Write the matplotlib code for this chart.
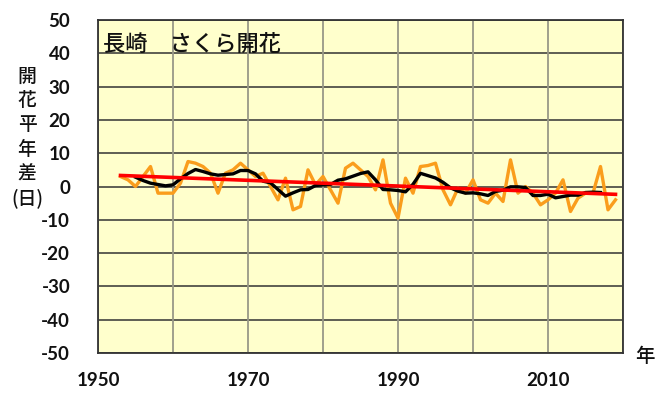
import numpy as np
import pandas as pd
import matplotlib
matplotlib.use("Agg")
import matplotlib.pyplot as plt

plt.rcParams['font.family'] = ['Noto Sans CJK JP', 'DejaVu Sans']

years = list(range(1953, 2020))
anomaly = [3, 2, 0, 3, 6, -2, -2, -2, 1, 7.5,
           7, 6, 4, -2, 4, 5, 7, 5, 3, 4,
           0, -4, 2.5, -7, -6, 5, 0.5, 3, -1, -5,
           5.5, 7, 5, 3, -1, 8, -5, -9.5, 2.5, -2,
           6, 6.3, 7, -1, -5.5, -0.5, -2, 2, -4, -5,
           -2, -4.5, 8, -2, 0, -2, -5.5, -4, -2, 2,
           -7.5, -3.5, -2, -2, 6, -7, -4]
x_ticks = [1950, 1960, 1970, 1980, 1990, 2000, 2010, 2020]
x_labels = ['1950', '', '1970', '', '1990', '', '2010', '']
y_ticks = list(range(-50, 51, 10))
title = '長崎\u3000さくら開花'
ylabel_chars = ['開', '花', '平', '年', '差', '(日)']

s = pd.Series(anomaly, index=years)
run5 = s.rolling(5, center=True).mean()
coef = np.polyfit(years, anomaly, 1)
trend = np.polyval(coef, years)

fig = plt.figure(figsize=(6.56, 3.94), dpi=100)
ax = fig.add_axes([98/656, 1-353/394, (623-98)/656, (353-20)/394])
ax.set_facecolor('#FFFFCC')

ax.plot(years, anomaly, color='#FA9D1C', lw=2.4, zorder=3)
ax.plot(run5.index, run5.values, color='black', lw=2.4, zorder=4)
ax.plot(years, trend, color='#FF0000', lw=2.6, zorder=5)

ax.set_xlim(1950, 2020)
ax.set_ylim(-50, 50)
ax.set_xticks(x_ticks)
ax.set_xticklabels(x_labels)
ax.set_yticks(y_ticks)
ax.set_yticklabels([str(v) for v in y_ticks])
ax.tick_params(length=0)
ax.tick_params(axis='y', pad=20)
ax.tick_params(axis='x', pad=14)
for lab in ax.get_xticklabels() + ax.get_yticklabels():
    lab.set_fontfamily(['Lato', 'DejaVu Sans'])
    lab.set_fontweight('bold')
    lab.set_fontsize(13.5)
    lab.set_color('#111111')

for yv in y_ticks:
    ax.axhline(yv, color='#333333', lw=1.1, zorder=1)
for xv in x_ticks:
    ax.axvline(xv, color='#999988', lw=1.3, zorder=1)
for sp in ax.spines.values():
    sp.set_color('#333333')
    sp.set_linewidth(1.3)

ax.text(0.01, 0.96, title, transform=ax.transAxes, fontsize=16,
        va='top', ha='left', color='#111111', fontweight='medium')

for i, ch in enumerate(ylabel_chars):
    fig.text(27/656, 1 - (76 + i*24.5)/394, ch, fontsize=13.5, ha='center',
             va='center', color='#111111', fontweight='medium')
fig.text(645/656, 1 - 357/394, '年', fontsize=14, ha='center', va='center',
         color='#111111', fontweight='medium')

fig.savefig('out.png', dpi=100)
